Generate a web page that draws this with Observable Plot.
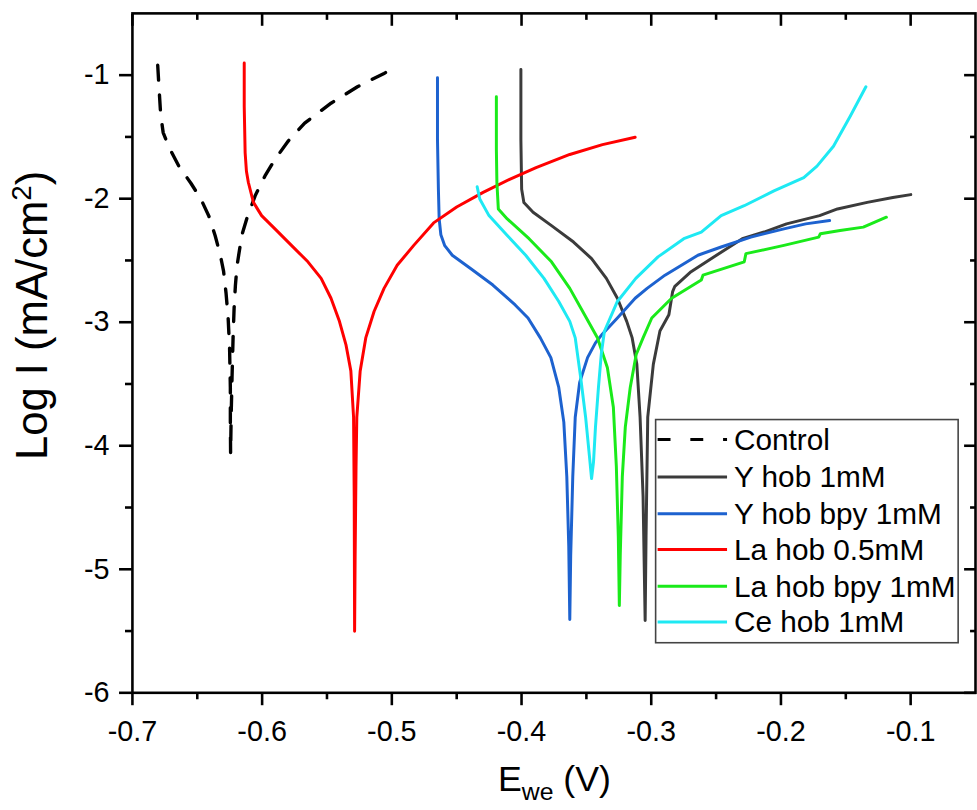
<!DOCTYPE html>
<html><head><meta charset="utf-8">
<script src="https://cdn.jsdelivr.net/npm/d3@7"></script>
<script src="https://cdn.jsdelivr.net/npm/@observablehq/plot@0.6"></script>
<style>
body{margin:0;background:#fff;}
#wrap{width:977px;height:810px;overflow:hidden;position:relative;background:#fff;}
</style></head><body><div id="wrap"></div>
<script>
// ---- data (E in V, log I in mA/cm2) ----
const seriesNames = ["Control", "Y hob 1mM", "Y hob bpy 1mM", "La hob 0.5mM", "La hob bpy 1mM", "Ce hob 1mM"];
const seriesColors = ["#000000", "#3b3b3b", "#1d62cf", "#ff0000", "#1aea1a", "#1ee9f3"];

const controlCurve = [[-0.6805,-0.920],[-0.6794,-1.120],[-0.6782,-1.321],[-0.6763,-1.465],[-0.6717,-1.586],[-0.6641,-1.738],[-0.6549,-1.875],[-0.6472,-2.003],[-0.6411,-2.140],[-0.6362,-2.300],[-0.6323,-2.453],[-0.6297,-2.589],[-0.6278,-2.766],[-0.6262,-2.966],[-0.6251,-3.207],[-0.6245,-3.528],[-0.6245,-3.809],[-0.6243,-4.066],[-0.6239,-3.769],[-0.6232,-3.448],[-0.6224,-3.127],[-0.6216,-2.886],[-0.6206,-2.701],[-0.6193,-2.539],[-0.6157,-2.298],[-0.6119,-2.164],[-0.6054,-1.977],[-0.5978,-1.816],[-0.5901,-1.682],[-0.5800,-1.535],[-0.5672,-1.388],[-0.5469,-1.227],[-0.5265,-1.094],[-0.5060,-0.986],[-0.4959,-0.928]];

const yHobCurve = [[-0.4005,-0.954],[-0.4005,-1.522],[-0.3999,-1.923],[-0.3982,-2.030],[-0.3911,-2.110],[-0.3769,-2.218],[-0.3599,-2.351],[-0.3460,-2.485],[-0.3346,-2.645],[-0.3261,-2.806],[-0.3189,-2.993],[-0.3147,-3.127],[-0.3111,-3.341],[-0.3086,-3.769],[-0.3063,-4.411],[-0.3047,-5.414],[-0.3040,-4.732],[-0.3027,-3.769],[-0.2984,-3.341],[-0.2933,-3.071],[-0.2864,-2.940],[-0.2835,-2.752],[-0.2818,-2.709],[-0.2693,-2.591],[-0.2497,-2.458],[-0.2298,-2.324],[-0.2130,-2.270],[-0.1957,-2.204],[-0.1702,-2.137],[-0.1564,-2.083],[-0.1335,-2.030],[-0.1137,-1.990],[-0.0999,-1.967]];

const yHobBpyCurve = [[-0.4648,-1.020],[-0.4648,-1.522],[-0.4641,-1.923],[-0.4635,-2.164],[-0.4622,-2.292],[-0.4592,-2.380],[-0.4534,-2.458],[-0.4393,-2.565],[-0.4221,-2.699],[-0.4049,-2.860],[-0.3950,-2.966],[-0.3855,-3.127],[-0.3774,-3.287],[-0.3713,-3.528],[-0.3674,-3.809],[-0.3651,-4.250],[-0.3636,-4.812],[-0.3628,-5.406],[-0.3621,-4.892],[-0.3605,-4.250],[-0.3586,-3.769],[-0.3552,-3.488],[-0.3491,-3.287],[-0.3430,-3.167],[-0.3376,-3.095],[-0.3261,-2.966],[-0.3124,-2.806],[-0.3032,-2.726],[-0.2894,-2.619],[-0.2640,-2.458],[-0.2461,-2.391],[-0.2232,-2.311],[-0.1977,-2.244],[-0.1809,-2.204],[-0.1625,-2.177]];

const laHobCurve = [[-0.6138,-0.901],[-0.6138,-1.254],[-0.6131,-1.628],[-0.6121,-1.778],[-0.6106,-1.869],[-0.6067,-2.030],[-0.6004,-2.137],[-0.5901,-2.244],[-0.5774,-2.378],[-0.5647,-2.511],[-0.5545,-2.645],[-0.5469,-2.806],[-0.5404,-2.993],[-0.5354,-3.181],[-0.5316,-3.394],[-0.5295,-3.769],[-0.5290,-4.411],[-0.5287,-5.502],[-0.5283,-4.892],[-0.5276,-4.170],[-0.5270,-3.769],[-0.5244,-3.394],[-0.5201,-3.127],[-0.5137,-2.913],[-0.5060,-2.726],[-0.4959,-2.539],[-0.4831,-2.378],[-0.4678,-2.196],[-0.4500,-2.067],[-0.4296,-1.949],[-0.4092,-1.843],[-0.3888,-1.749],[-0.3628,-1.642],[-0.3376,-1.562],[-0.3124,-1.503]];

const laHobBpyCurve = [[-0.4194,-1.174],[-0.4194,-1.602],[-0.4190,-1.869],[-0.4179,-2.083],[-0.4110,-2.164],[-0.3942,-2.324],[-0.3769,-2.511],[-0.3628,-2.726],[-0.3514,-2.940],[-0.3414,-3.127],[-0.3338,-3.368],[-0.3292,-3.689],[-0.3269,-4.170],[-0.3254,-4.732],[-0.3246,-5.294],[-0.3239,-4.892],[-0.3223,-4.250],[-0.3200,-3.849],[-0.3162,-3.528],[-0.3116,-3.261],[-0.3063,-3.127],[-0.2996,-2.966],[-0.2843,-2.806],[-0.2614,-2.659],[-0.2601,-2.619],[-0.2283,-2.511],[-0.2270,-2.445],[-0.1977,-2.378],[-0.1709,-2.311],[-0.1696,-2.284],[-0.1544,-2.258],[-0.1365,-2.230],[-0.1276,-2.190],[-0.1187,-2.150]];

const ceHobCurve = [[-0.4342,-1.904],[-0.4322,-2.003],[-0.4251,-2.137],[-0.4110,-2.298],[-0.3968,-2.458],[-0.3827,-2.645],[-0.3713,-2.832],[-0.3628,-2.993],[-0.3586,-3.127],[-0.3544,-3.448],[-0.3506,-3.769],[-0.3476,-4.090],[-0.3460,-4.266],[-0.3445,-4.130],[-0.3430,-3.849],[-0.3407,-3.528],[-0.3384,-3.247],[-0.3361,-3.073],[-0.3261,-2.832],[-0.3119,-2.645],[-0.2948,-2.471],[-0.2749,-2.324],[-0.2614,-2.270],[-0.2461,-2.137],[-0.2283,-2.057],[-0.2054,-1.937],[-0.1824,-1.829],[-0.1722,-1.736],[-0.1595,-1.575],[-0.1467,-1.335],[-0.1345,-1.094]];

const xMajorTicks = [-0.7, -0.6, -0.5, -0.4, -0.3, -0.2, -0.1];
const xMinorTicks = [-0.65, -0.55, -0.45, -0.35, -0.25, -0.15];
const yMajorTicks = [-6, -5, -4, -3, -2, -1];
const yMinorTicks = [-5.5, -4.5, -3.5, -2.5, -1.5];
const xDomain = [-0.7, -0.05];
const yDomain = [-6, -0.5];

// ---- build ----
const curves = [controlCurve, yHobCurve, yHobBpyCurve, laHobCurve, laHobBpyCurve, ceHobCurve];
const seriesData = curves.map((c, i) => c.map(([E, logI]) => ({name: seriesNames[i], E, logI})));

const font = "'Liberation Sans', Arial, Helvetica, sans-serif";
const axStroke = 2.6;

const lineMarks = seriesData.map((d, i) => Plot.line(d, {
  x: "E", y: "logI",
  stroke: seriesColors[i],
  strokeWidth: i === 0 ? 3.4 : 3,
  strokeDasharray: i === 0 ? "15,15" : null,
  strokeLinejoin: "round"
}));

const chart = Plot.plot({
  width: 985,
  height: 810,
  marginLeft: 133,
  marginRight: 2,
  marginTop: 13,
  marginBottom: 112,
  style: {fontFamily: font, color: "black", background: "white", overflow: "visible"},
  x: {domain: xDomain},
  y: {domain: yDomain},
  marks: [
    ...lineMarks,
    Plot.frame({stroke: "black", strokeWidth: axStroke}),
    Plot.axisX({anchor: "bottom", ticks: xMajorTicks, tickSize: 13, tickPadding: 15, strokeWidth: axStroke,
      tickFormat: d => d.toFixed(1), fontSize: 29, label: null}),
    Plot.axisX({anchor: "bottom", ticks: xMinorTicks, tickSize: 7, strokeWidth: axStroke,
      tickFormat: () => "", label: null}),
    Plot.axisX({anchor: "top", ticks: xMajorTicks, tickSize: 12, dy: 12, strokeWidth: axStroke,
      tickFormat: () => "", label: null}),
    Plot.axisX({anchor: "top", ticks: xMinorTicks, tickSize: 6, dy: 6, strokeWidth: axStroke,
      tickFormat: () => "", label: null}),
    Plot.axisY({anchor: "left", ticks: yMajorTicks, tickSize: 13, tickPadding: 10, strokeWidth: axStroke,
      tickFormat: d => String(d), fontSize: 29, label: null}),
    Plot.axisY({anchor: "left", ticks: yMinorTicks, tickSize: 7, strokeWidth: axStroke,
      tickFormat: () => "", label: null}),
    Plot.axisY({anchor: "right", ticks: yMajorTicks, tickSize: 12, dx: -12, strokeWidth: axStroke,
      tickFormat: () => "", label: null}),
    Plot.axisY({anchor: "right", ticks: yMinorTicks, tickSize: 6, dx: -6, strokeWidth: axStroke,
      tickFormat: () => "", label: null})
  ]
});

document.getElementById("wrap").appendChild(chart);

// ---- axis titles and legend ----
const svg = d3.select(chart);
const xt = svg.append("text")
  .attr("x", 559).attr("y", 798)
  .attr("text-anchor", "middle")
  .attr("font-family", font).attr("font-size", 36).attr("fill", "black")
  .style("white-space", "pre");
xt.append("tspan").text("E");
xt.append("tspan").attr("font-size", 25).attr("dy", 9).text("we");
xt.append("tspan").attr("dy", -9).text(" (V)");

const yt = svg.append("text")
  .attr("transform", "translate(47,318) rotate(-90)")
  .attr("text-anchor", "middle")
  .attr("font-family", font).attr("font-size", 44).attr("fill", "black");
yt.append("tspan").text("Log I (mA/cm");
yt.append("tspan").attr("font-size", 28).attr("dy", -16).text("2");
yt.append("tspan").attr("dy", 16).text(")");

const lg = svg.append("g").attr("text-anchor", "start");
lg.append("rect").attr("x", 661).attr("y", 423).attr("width", 305).attr("height", 225)
  .attr("fill", "white").attr("stroke", "#444").attr("stroke-width", 1.6);
const rowY = [443, 481, 518, 554, 591, 627];
seriesNames.forEach((name, i) => {
  lg.append("line").attr("x1", 663).attr("x2", 733).attr("y1", rowY[i]).attr("y2", rowY[i])
    .attr("stroke", seriesColors[i]).attr("stroke-width", 3)
    .attr("stroke-dasharray", i === 0 ? "13,20" : null);
  lg.append("text").attr("x", 740).attr("y", rowY[i]).attr("dy", "0.35em")
    .attr("text-anchor", "start")
    .attr("font-family", font).attr("font-size", 30).attr("fill", "black").text(name);
});
</script></body></html>
